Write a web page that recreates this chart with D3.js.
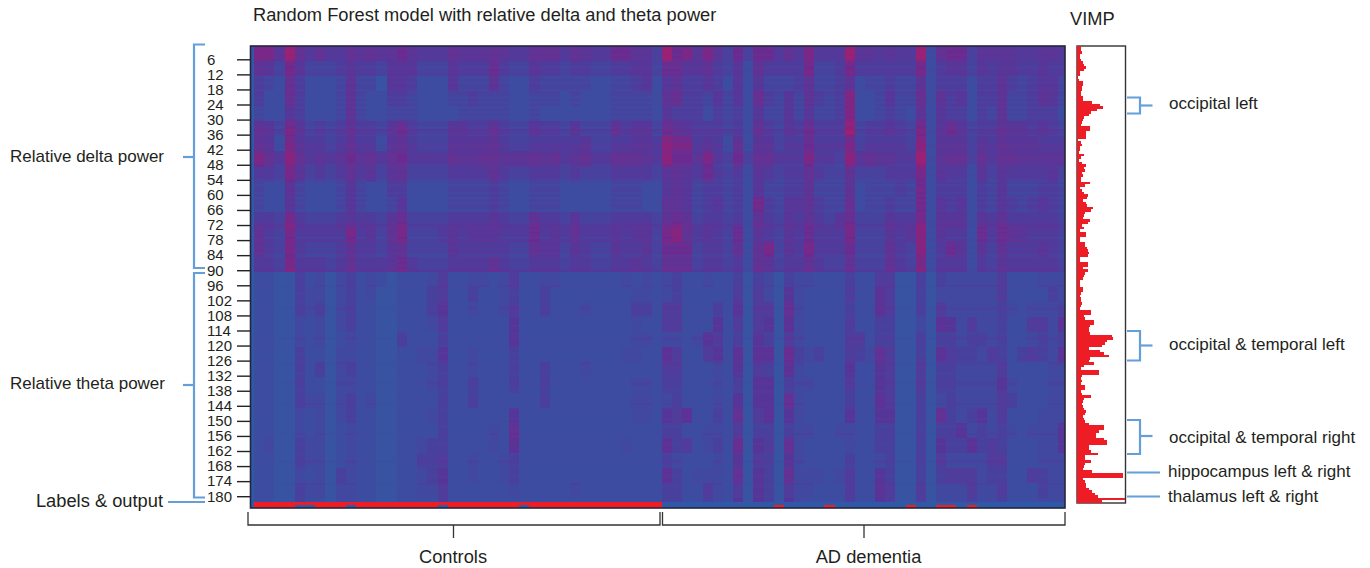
<!DOCTYPE html>
<html>
<head>
  <meta charset="utf-8">
  <script src="https://d3js.org/d3.v7.min.js"></script>
  <style>
    html, body { margin: 0; padding: 0; background: #fff; }
    text { font-family: "Liberation Sans", Arial, sans-serif; fill: #231f20; }
    .label { font-size: 17px; }
    .big { font-size: 18.3px; }
    .ticks text { font-size: 15px; text-anchor: start; }
    .ticks line { stroke: #222; stroke-width: 1.4; }
    .ticks .domain { stroke: none; }
    .blue { fill: none; stroke: #659fda; stroke-width: 2.2; }
    .bracket { fill: none; stroke: #333; stroke-width: 1.3; }
  </style>
</head>
<body>
<svg id="p" width="1370" height="568"></svg>
<script>
// cell levels, 0 (blue) to 9 (crimson), one string per 6 row band, one digit per subject
const deltaControls = [
  "7749535335 4544643335 4445433555 3543366442",
  "5427422234 3324442224 3336322433 2332233442",
  "3216311125 2204431114 2225211322 2221122341",
  "3116311125 2113321112 2322211222 1211122221",
  "2114311125 2112221111 2222211211 1111122221",
  "5427423235 3324632224 4335322433 2422253442",
  "5417433235 3314532224 4445322333 3342233443",
  "7538534346 4535633335 4455444545 3453355543",
  "3327423235 3424522223 3335322333 2322233332",
  "2115211124 2113311112 2223211222 1111122211",
  "2114211124 2112411112 2223211222 1111122211",
  "3327322234 3324622223 3334322533 2422233332",
  "5327333337 3425722234 3444333634 3533343442",
  "5327322235 3324522224 3333322544 2432243342",
  "3327333235 3334632223 3335322333 2332233432"
];
const deltaDementia = [
  "9674742626 6353733394 4343391566 2444433443",
  "6644532415 3333722373 3333371344 2434433433",
  "4533431414 2223522351 2232251333 1335323442",
  "5633242416 3242532381 1242261534 1335223542",
  "4333132314 2242422381 1232151433 1325223331",
  "6543332315 3243633392 3343271464 2335443432",
  "8773431514 4233633372 3333281444 2435444333",
  "8664732625 5333733284 5443391455 2535544444",
  "4543632314 3233532252 2233371433 1424333342",
  "4542332314 2233522251 2223271333 1324222332",
  "5542342317 3244532261 2232271434 1324323432",
  "5652332315 3243532462 2243371444 1435333332",
  "7853432614 3243633372 2243481433 1636543332",
  "6662332515 7243733362 2253281364 1425333432",
  "5552332315 4233532252 2253271333 1324333332"
];
const thetaControls = [
  "1100312023 1210111241 1221241122 1111112121",
  "1100322023 1200111341 1311231131 1111111221",
  "1100323023 1100111351 1211241131 1121111331",
  "1100212023 1100111241 1111151111 1111111211",
  "1100212012 1100311131 1111151111 1111111221",
  "1100311022 1100112251 1211131111 1111112211",
  "1100313023 1100111231 1211131131 1121111111",
  "1100311022 1100111231 1311131131 1111111221",
  "1100322023 1200111131 1311111131 1111111221",
  "1100212023 1100111231 1111151111 1111111221",
  "1100212012 1100111131 1112171111 1111111111",
  "1200322012 1100112331 1112161111 1111112111",
  "1100322012 1100113341 1211231111 1111111111",
  "1100212032 1100112351 1211231111 1111111111",
  "1100322022 1100112241 1111121111 1211111111",
  "1100311022 1100111141 1111111111 1111111111"
];
const thetaDementia = [
  "2311211303 2032211131 1440030322 2224111222",
  "2311111404 2052111141 1640030222 2224111132",
  "4411131504 4072111131 1640030422 2223212223",
  "4411151404 5062111141 1330020652 4223114426",
  "2212541305 3042111144 1330030332 3323112323",
  "6411451606 6083231143 2740030643 3243134326",
  "4411121504 3062111151 1540040332 2224111122",
  "3311121305 5032211141 1540040332 2225211122",
  "2311121505 5072111131 1640030232 2224311122",
  "5461131704 6052111151 1550030732 3524111222",
  "3311221403 3032211221 1330030335 2323212225",
  "6341231805 4072111121 1330030533 6343111225",
  "3211121504 3052111131 1230030422 2244111222",
  "6312221705 3072221241 1530030344 4233114322",
  "3311421405 3042211141 1640040222 4224111322",
  "3311321505 3052111141 1540040222 3223111222"
];
// row streaks: digit 2 is neutral, one step is half a level
const deltaStreaks = "2332322213 2212122122 1212121212 2214312223 3223332132 2321212212 1212212222 3432321322 3231323234";
const thetaStreaks = "2122232212 2212322122 2122123221 2212213222 1222322122 2232122212 2122322212 2212232122 2122312221 22";

// bottom two rows: class label and model output, 1 = red
const labelRow  = "1111111111 1111111111 1111111111 1111111111 0000000000 0000000000 0000000000 0000000000";
const outputRow = "1111001110 1111111101 1111110111 1111111111 0000000000 0100001000 0000100110 1000000000".replace(/ /g, "");

// variable importance per row, panel on the right
const vimp = [
  4,4,5,3,3,4,6,7,9,7,
  3,3,1,2,6,6,5,5,4,4,
  6,6,15,23,26,20,14,12,7,6,
  5,4,13,13,9,9,9,1,4,5,
  3,3,2,7,4,2,5,9,7,8,
  5,6,4,4,13,8,3,5,7,11,
  10,6,9,10,16,14,8,7,6,13,
  11,5,7,3,9,9,3,3,8,8,
  10,11,12,11,3,3,11,11,6,11,
  8,7,6,3,3,3,6,6,4,3,
  4,4,5,4,3,14,14,7,8,17,
  17,13,12,12,13,35,36,30,28,25,
  12,23,27,32,13,12,17,7,4,22,
  22,5,4,5,4,8,8,4,5,14,
  7,6,5,6,7,9,8,6,7,8,
  12,27,27,22,19,19,27,30,30,12,
  12,14,21,8,8,14,8,7,6,15,
  46,46,6,8,9,9,12,15,18,21,
  48,25
];
const tickRows = [6,12,18,24,30,36,42,48,54,60,66,72,78,84,90,96,102,108,114,120,126,132,138,144,150,156,162,168,174,180];

const svg = d3.select("svg#p");
const strip = s => s.replace(/ /g, "");

const plotTop = 46, plotBottom = 508;
const rows = d3.range(1, 185);
const y = d3.scaleBand().domain(rows).range([plotTop, plotBottom]);
const xControls = d3.scaleBand().domain(d3.range(40)).range([254, 662]);
const xDementia = d3.scaleBand().domain(d3.range(40)).range([662, 1068]);
const x = c => c < 40 ? xControls(c) : xDementia(c - 40);
const color = d3.scaleLinear()
  .domain([0, 1, 3, 6, 9])
  .range(["#3752a2", "#3e4aa0", "#52399b", "#6b2c90", "#a01f70"])
  .clamp(true);

svg.append("clipPath").attr("id", "plotClip").append("rect")
  .attr("x", 250).attr("y", plotTop).attr("width", 815).attr("height", plotBottom - plotTop);

// the reference is a soft scan, so the cells get a light blur
const blur = svg.append("filter").attr("id", "soft")
  .attr("x", 0).attr("y", 0).attr("width", 1).attr("height", 1);
blur.append("feGaussianBlur").attr("stdDeviation", "0.7 0.5");

// build the cells
const cells = [];
rows.slice(0, 182).forEach(r => {
  const isDelta = r <= 90;
  const i = isDelta ? r - 1 : r - 91;
  const band = Math.floor(i / 6);
  const c = strip((isDelta ? deltaControls : thetaControls)[band]);
  const d = strip((isDelta ? deltaDementia : thetaDementia)[band]);
  const shift = (+strip(isDelta ? deltaStreaks : thetaStreaks)[i] - 2) * 0.5;
  const gain = isDelta ? 0.92 : 0.72;
  d3.range(80).forEach(col => {
    const digit = +(col < 40 ? c[col] : d[col - 40]);
    cells.push({r: r, col: col, v: (digit + (digit > 1 ? shift : shift * 0.3)) * gain});
  });
});

const plot = svg.append("g").attr("clip-path", "url(#plotClip)");
plot.append("rect").attr("x", 250).attr("y", plotTop).attr("width", 815).attr("height", plotBottom - plotTop).attr("fill", "#2f58a6");
plot.append("g").attr("shape-rendering", "crispEdges").attr("filter", "url(#soft)")
  .selectAll("rect").data(cells).join("rect")
  .attr("x", d => x(d.col))
  .attr("y", d => y(d.r))
  .attr("width", d => (d.col < 40 ? xControls : xDementia).bandwidth())
  .attr("height", y.bandwidth())
  .attr("fill", d => color(d.v));

// label and output rows, the label row sits a pixel higher in the reference
const lastRows = [];
strip(labelRow).split("").forEach((v, col) => lastRows.push({r: 183, col: col, v: +v}));
outputRow.split("").forEach((v, col) => lastRows.push({r: 184, col: col, v: +v}));
plot.append("g").attr("shape-rendering", "crispEdges")
  .selectAll("rect").data(lastRows).join("rect")
  .attr("x", d => x(d.col))
  .attr("y", d => y(d.r) - (d.r === 183 ? 1 : 0))
  .attr("width", d => (d.col < 40 ? xControls : xDementia).bandwidth())
  .attr("height", d => y.bandwidth() + (d.r === 183 ? 1 : 0))
  .attr("fill", d => d.v ? "#ee1c25" : "#2f58a6");

svg.append("rect").attr("x", 250.5).attr("y", 46).attr("width", 814.5).attr("height", 462)
  .attr("fill", "none").attr("stroke", "#26263a").attr("stroke-width", 1.6);

// row axis, labels are left aligned in the original
const axis = d3.axisLeft(y).tickValues(tickRows).tickSize(13).tickSizeOuter(0);
svg.append("g").attr("class", "ticks").attr("transform", "translate(250,0)").call(axis)
  .selectAll("text").attr("x", -43);

// VIMP panel
const vimpX = d3.scaleLinear().domain([0, 48]).range([1077, 1125]);
const vimpY = d3.scaleBand().domain(d3.range(1, 183)).range([46, 503]);
svg.append("rect").attr("x", 1077).attr("y", 46).attr("width", 48.5).attr("height", 457)
  .attr("fill", "#fff").attr("stroke", "#333").attr("stroke-width", 1.4);
svg.append("g").attr("shape-rendering", "crispEdges")
  .selectAll("rect").data(vimp).join("rect")
  .attr("x", vimpX(0))
  .attr("y", (d, i) => vimpY(i + 1))
  .attr("width", d => vimpX(d) - vimpX(0))
  .attr("height", vimpY.bandwidth())
  .attr("fill", "#ee1c25");

// blue brackets
const line = d3.line();
const blue = pts => svg.append("path").attr("class", "blue").attr("d", line(pts));
blue([[205,44.5],[194,44.5],[194,268],[205,268]]);
blue([[183,157],[194,157]]);
blue([[205,273],[194,273],[194,497.5],[205,497.5]]);
blue([[183,385],[194,385]]);
blue([[168,502],[205,502]]);
blue([[1127,97.5],[1140,97.5],[1140,113.5],[1127,113.5]]);
blue([[1140,105.5],[1152.5,105.5]]);
blue([[1127,331],[1140,331],[1140,360.5],[1127,360.5]]);
blue([[1140,345.5],[1152.5,345.5]]);
blue([[1127,420],[1140,420],[1140,454],[1127,454]]);
blue([[1140,436],[1152.5,436]]);
blue([[1127,472.5],[1160,472.5]]);
blue([[1127,496.5],[1160,496.5]]);

// group brackets under the plot
const dark = pts => svg.append("path").attr("class", "bracket").attr("d", line(pts));
dark([[248,512],[248,525],[660,525],[660,512]]);
dark([[662.5,512],[662.5,525],[1065,525],[1065,512]]);
dark([[453.5,525],[453.5,538]]);
dark([[864,525],[864,538]]);

// text
const label = (t, px, py, cls, anchor) => svg.append("text").attr("class", cls)
  .attr("x", px).attr("y", py).attr("text-anchor", anchor || "start").text(t);
label("Random Forest model with relative delta and theta power", 253, 21, "big");
label("VIMP", 1070, 25, "big");
label("Relative delta power", 10, 162, "label");
label("Relative theta power", 10, 389, "label");
label("Labels & output", 163, 507, "big", "end");
label("Controls", 453, 563, "big", "middle");
label("AD dementia", 868.5, 563, "big", "middle");
label("occipital left", 1169, 109, "label");
label("occipital & temporal left", 1169, 350, "label");
label("occipital & temporal right", 1169, 443, "label");
label("hippocampus left & right", 1168, 477, "label");
label("thalamus left & right", 1168, 502, "label");
</script>
</body>
</html>
